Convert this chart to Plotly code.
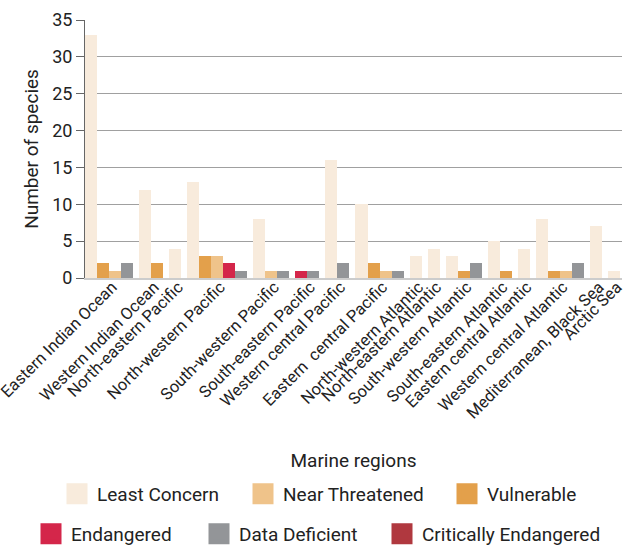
import plotly.graph_objects as go

# ---- data ----
regions = [
    "Eastern Indian Ocean", "Western Indian Ocean", "North-eastern Pacific",
    "North-western Pacific", "South-western Pacific", "South-eastern Pacific",
    "Western central Pacific", "Eastern  central Pacific", "North-western Atlantic",
    "North-eastern Atlantic", "South-western Atlantic", "South-eastern Atlantic",
    "Eastern central Atlantic", "Western central Atlantic", "Mediterranean, Black Sea",
    "Arctic Sea",
]
least_concern = [33, 12, 4, 13, 8, 0, 16, 10, 3, 4, 3, 5, 4, 8, 7, 1]
vulnerable = [2, 2, 0, 3, 0, 0, 0, 2, 0, 0, 1, 1, 0, 1, 0, 0]
near_threatened = [1, 0, 0, 3, 1, 0, 0, 1, 0, 0, 0, 0, 0, 1, 0, 0]
endangered = [0, 0, 0, 2, 0, 1, 0, 0, 0, 0, 0, 0, 0, 0, 0, 0]
data_deficient = [2, 0, 0, 1, 1, 1, 2, 1, 0, 0, 2, 0, 0, 2, 0, 0]
critically_endangered = [0] * 16

y_ticks = [0, 5, 10, 15, 20, 25, 30, 35]

# bar order inside each region group
series = [
    ("Least Concern", least_concern, "#F8EBDC"),
    ("Vulnerable", vulnerable, "#E3A04B"),
    ("Near Threatened", near_threatened, "#EFC38A"),
    ("Endangered", endangered, "#D4264A"),
    ("Data Deficient", data_deficient, "#939598"),
    ("Critically Endangered", critically_endangered, "#B0383F"),
]
colors = {name: c for name, _, c in series}

# legend entries: name, left edge (px), row centre (px)
legend_items = [
    ("Least Concern", 57, 494),
    ("Near Threatened", 243, 494),
    ("Vulnerable", 447, 494),
    ("Endangered", 31, 534),
    ("Data Deficient", 199, 534),
    ("Critically Endangered", 382, 534),
]

# ---- bars: non-zero values packed, half-slot gap between regions ----
GAP = 0.5
pos = {name: ([], []) for name, *_ in series}
centers = []
cursor = 0.0
for i, _ in enumerate(regions):
    start = cursor
    for name, vals, _ in series:
        if vals[i] > 0:
            pos[name][0].append(cursor + 0.5)
            pos[name][1].append(vals[i])
            cursor += 1
    centers.append((start + cursor) / 2)
    cursor += GAP
x_max = cursor - GAP + 0.17

W, H = 624, 546
ml, mr, mt, mb = 85, 2, 20, 268
pw, ph = W - ml - mr, H - mt - mb


def px_to_paper_x(px):
    return (px - ml) / pw


def px_to_paper_y(py):
    return (H - mb - py) / ph


legend_key = {}
for k, (name, _, _) in enumerate(legend_items):
    legend_key[name] = "legend" if k == 0 else f"legend{k + 1}"

fig = go.Figure()
for name, vals, color in series:
    xs, ys = pos[name]
    fig.add_trace(go.Bar(
        x=xs if xs else [None], y=ys if ys else [None], name=name,
        marker=dict(color=color, line=dict(width=0)),
        width=1, legend=legend_key[name], legendgroup=name, showlegend=False,
        hovertemplate=name + ": %{y}<extra></extra>",
    ))

# legend entries (square swatches)
for name, _, _ in legend_items:
    fig.add_trace(go.Scatter(
        x=[None], y=[None], mode="markers", name=name,
        marker=dict(symbol="square", size=16, color=colors[name],
                    line=dict(color=colors[name], width=5)),
        legend=legend_key[name], legendgroup=name,
        hoverinfo="skip",
    ))

font = "Roboto, 'Noto Sans', Arial, sans-serif"
legends = {}
for name, left, yc in legend_items:
    legends[legend_key[name]] = dict(
        orientation="h", x=px_to_paper_x(left), xanchor="left",
        y=px_to_paper_y(yc), yanchor="middle", font=dict(size=19),
        itemwidth=30, bgcolor="rgba(0,0,0,0)",
    )

fig.update_layout(
    width=W, height=H,
    margin=dict(l=ml, r=mr, t=mt, b=mb, autoexpand=False),
    paper_bgcolor="white", plot_bgcolor="white",
    font=dict(family=font, size=18, color="#222222"),
    bargap=0,
    xaxis=dict(
        range=[0, x_max], tickmode="array", tickvals=centers, ticktext=regions,
        tickangle=-45, showgrid=False, zeroline=False, ticks="",
        showline=True, linecolor="#cccccc", linewidth=2,
        tickfont=dict(size=16.5, color="#222222"),
        ticklabeloverflow="allow", ticklabelshift=3, ticklabelstandoff=-9,
        title=dict(text="Marine regions", standoff=32, font=dict(size=19)),
        automargin=False,
    ),
    yaxis=dict(
        range=[0, 35], tickmode="array", tickvals=y_ticks,
        showgrid=True, gridcolor="#a0a0a0", gridwidth=1,
        zeroline=False, showline=True, linecolor="#666666", linewidth=1,
        ticks="outside", ticklen=8, tickcolor="#666666",
        tickfont=dict(size=18, color="#222222"),
        title=dict(text="Number of species", standoff=8, font=dict(size=19)),
        automargin=False,
    ),
    **legends,
)

fig.write_html("out.html", config={"displayModeBar": False},
               post_script="document.body.style.margin='0';")
